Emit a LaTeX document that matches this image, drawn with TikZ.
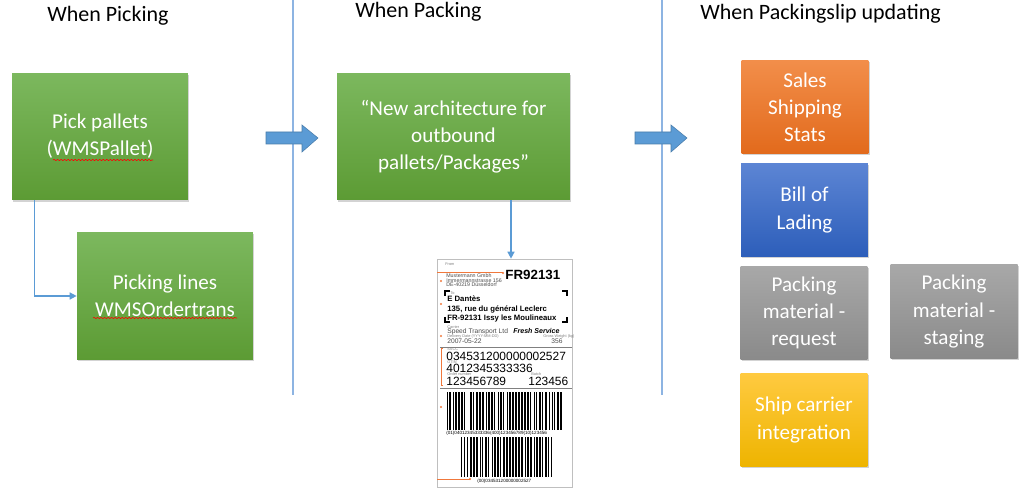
\documentclass[tikz,border=0pt]{standalone}
\usepackage{fontspec}
\setmainfont{Carlito}
\newfontfamily\labelfont{Liberation Sans}
\usetikzlibrary{positioning}
\usetikzlibrary{arrows.meta,shadows,calc}
\usetikzlibrary{decorations.pathmorphing}
\definecolor{greentop}{RGB}{124,184,94}
\definecolor{greenbot}{RGB}{92,155,52}
\definecolor{orangetop}{RGB}{242,142,74}
\definecolor{orangebot}{RGB}{226,106,28}
\definecolor{bluetop}{RGB}{92,133,212}
\definecolor{bluebot}{RGB}{45,94,186}
\definecolor{greytop}{RGB}{168,168,168}
\definecolor{greybot}{RGB}{138,138,138}
\definecolor{yellowtop}{RGB}{255,202,64}
\definecolor{yellowbot}{RGB}{238,180,0}
\definecolor{linkblue}{RGB}{91,155,213}
\definecolor{splitblue}{RGB}{141,180,226}
\definecolor{tagorange}{RGB}{240,120,60}

\begin{document}
\begin{tikzpicture}[x=0.02cm,y=-0.02cm,
  box/.style={rectangle,text=white,align=center,inner sep=2pt,font=\fontsize{12}{15.5}\selectfont,drop shadow={opacity=0.35,shadow xshift=0.7pt,shadow yshift=-0.9pt}},
  greenbox/.style={box,top color=greentop,bottom color=greenbot,minimum width=3.52cm,minimum height=2.54cm},
  stepbox/.style={box,minimum width=2.54cm,minimum height=1.87cm},
  title/.style={anchor=west,inner sep=0pt,font=\fontsize{12.5}{15}\selectfont},
  link/.style={linkblue,line width=0.8pt,-{Triangle[length=4pt,width=4pt]}},
  split/.style={splitblue,line width=0.6pt},
  bigarrow/.style={fill=linkblue,draw=linkblue!80!black,line width=0.3pt},
  squiggle/.style={red,line width=0.35pt,decorate,decoration={snake,amplitude=0.35pt,segment length=2pt}},
  slip/.style={rectangle,draw=gray!50,fill=white,minimum width=2.7cm,minimum height=4.56cm,inner sep=0pt},
  tag/.style={anchor=west,inner sep=0pt,font=\labelfont\fontsize{2.2}{2.5}\selectfont,text=gray},
  small/.style={anchor=west,inner sep=0pt,font=\labelfont\fontsize{3}{3.5}\selectfont,text=black!70},
  mid/.style={anchor=west,inner sep=0pt,font=\labelfont\fontsize{3.8}{4}\selectfont,text=black!70},
  addr/.style={anchor=west,inner sep=0pt,font=\labelfont\bfseries\fontsize{4.4}{5}\selectfont},
  digits/.style={anchor=west,inner sep=0pt,font=\labelfont\fontsize{6.8}{7}\selectfont},
  code/.style={anchor=west,inner sep=0pt,font=\labelfont\fontsize{2.6}{3}\selectfont},
  dot/.style={circle,fill=tagorange,inner sep=0pt,minimum size=1.3pt}]

  \useasboundingbox (0,0) rectangle (1024,492);

  \node[title] (picktitle) at (47,16) {When Picking};
  \node[title] (packtitle) at (355,12) {When Packing};
  \node[title] (sliptitle) at (700,14) {When Packingslip updating};

  \draw[split] (293,0) -- (293,395);
  \draw[split] (662,0) -- (662,395);

  \node[greenbox] (pick) at (100,136.5) {Pick pallets\\(WMSPallet)};
  \node[greenbox] (lines) at (165,296) {Picking lines\\WMSOrdertrans};
  \node[greenbox,minimum width=4.66cm] (newarch) at (453.5,136.5) {“New architecture for\\outbound\\pallets/Packages”};

  \draw[squiggle] (53,160) -- (153,160);
  \draw[squiggle] (93,318) -- (237,318);

  \draw[link] ($(pick.south west)+(23,0)$) |- (lines.west);

  \fill[bigarrow] (266,132) -- (302,132) -- (302,125) -- (318,138) -- (302,152) -- (302,144) -- (266,144) -- cycle;
  \fill[bigarrow] (635,132) -- (671,132) -- (671,125) -- (687,138) -- (671,152) -- (671,144) -- (635,144) -- cycle;

  \node[stepbox,top color=orangetop,bottom color=orangebot] (stats) at (805,107) {Sales\\Shipping\\Stats};
  \node[stepbox,top color=bluetop,bottom color=bluebot] (bol) at (804.5,210) {Bill of\\Lading};
  \node[stepbox,top color=greytop,bottom color=greybot] (request) at (804,313) {Packing\\material -\\request};
  \node[stepbox,top color=greytop,bottom color=greybot] (staging) at (954,311.5) {Packing\\material -\\staging};
  \node[stepbox,top color=yellowtop,bottom color=yellowbot] (carrier) at (804,420) {Ship carrier\\integration};

  \node[slip] (slip) at (504.5,373) {};
  \coordinate (drop) at ($(newarch.south)+(57.5,0)$);
  \draw[link] (drop) -- (drop |- slip.north);

  \draw[tagorange,line width=0.3pt] (437,272.5) -- (503,272.5);
  \draw[tagorange,line width=0.3pt] (443,348) -- (441,348) -- (441,385) -- (443,385);
  \draw[tagorange,line width=0.3pt] (437,479) -- (470,479);
  \node[dot] (d1) at (503,273) {};
  \node[dot] (d2) at (441,281) {};
  \node[dot] (d3) at (441,304) {};
  \node[dot] (d4) at (441,336) {};
  \node[dot] (d5) at (441,407) {};
  \node[dot] (d6) at (470,479) {};

  \node[tag] (from) at (445,264) {From};
  \node[small] (s1) at (446,276) {Mustermann Gmbh};
  \node[small] (s2) at (446,280.5) {Immermannstrasse 156};
  \node[small] (s3) at (446,285) {DE-40219 Düsseldorf};
  \node[anchor=west,inner sep=0pt,font=\labelfont\bfseries\fontsize{7.6}{8}\selectfont] (fr) at (505,275) {FR92131};

  \draw[line width=0.8pt] (445,296) -- (445,291) -- (450,291);
  \draw[line width=0.8pt] (562,291) -- (567,291) -- (567,296);
  \draw[line width=0.8pt] (445,317) -- (445,322) -- (450,322);
  \draw[line width=0.8pt] (562,322) -- (567,322) -- (567,317);
  \node[tag] (to) at (450,293) {To};
  \node[addr] (a1) at (447,299) {E Dantès};
  \node[addr] (a2) at (447,309) {135, rue du général Leclerc};
  \node[addr] (a3) at (447,319) {FR-92131 Issy les Moulineaux};

  \node[tag] (carrier tag) at (447,327) {Carrier};
  \node[mid] (speed) at (447,331.5) {Speed Transport Ltd};
  \node[anchor=west,inner sep=0pt,font=\labelfont\bfseries\itshape\fontsize{4}{4.5}\selectfont] (fresh) at (513,331) {Fresh Service};
  \node[tag] (date tag) at (447,336.5) {Delivery Date (YYYY-MM-DD)};
  \node[tag] (weight tag) at (543,336.5) {Gross Weight (kg)};
  \node[mid] (date) at (447,341.5) {2007-05-22};
  \node[mid] (weight) at (551,341.5) {356};
  \draw[gray,line width=0.4pt] (440,347) -- (572,347);

  \node[tag] (sscc tag) at (447,349.5) {SSCC};
  \node[digits] (sscc) at (446,356) {034531200000002527};
  \node[tag] (gtin tag) at (447,362.5) {GTIN};
  \node[digits] (gtin) at (446,368) {4012345333336};
  \node[tag] (order tag) at (447,374) {Order number};
  \node[tag] (batch tag) at (531,374) {Batch};
  \node[digits] (order) at (446,381) {123456789};
  \node[digits] (batch) at (528,381) {123456};
  \draw[gray,line width=0.4pt] (440,388) -- (572,388);

  \pgfmathsetseed{11}
  \foreach \k in {0,...,77}{
    \pgfmathtruncatemacro\bar{random(0,3)}
    \ifnum\bar>0 \fill (447+1.5*\k,392) rectangle ++(0.45*\bar,38); \fi
  }
  \node[code] (code1) at (446,433.5) {(01)04012345333336(400)123456789(10)123456};
  \foreach \k in {0,...,62}{
    \pgfmathtruncatemacro\bar{random(0,3)}
    \ifnum\bar>0 \fill (459+1.5*\k,437) rectangle ++(0.45*\bar,40); \fi
  }
  \node[code] (code2) at (477,481) {(00)034531200000002527};
\end{tikzpicture}
\end{document}
